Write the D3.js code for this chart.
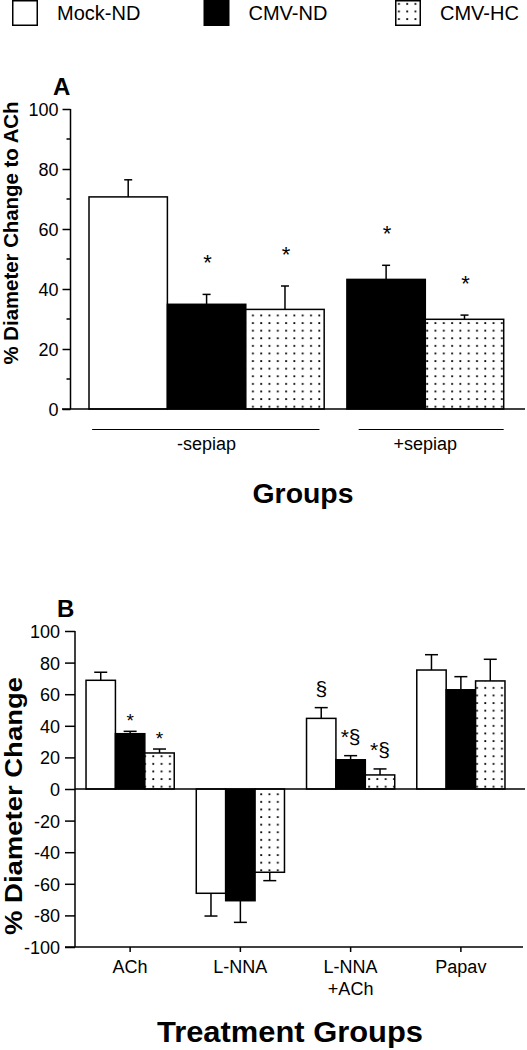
<!DOCTYPE html>
<html><head><meta charset="utf-8">
<script src="https://cdn.jsdelivr.net/npm/d3@7"></script>
<style>body{margin:0;background:#fff}svg{display:block}text{font-family:Arial,"Liberation Sans",Helvetica,sans-serif;fill:#000}</style>
</head><body>
<svg id="chart" width="527" height="1050"></svg>
<script>
// ---------- data ----------
const seriesNames = ["Mock-ND", "CMV-ND", "CMV-HC"];

// Panel A
const groupsA = ["-sepiap", "+sepiap"];
const barsAGroup = ["-sepiap", "-sepiap", "-sepiap", "+sepiap", "+sepiap"];
const barsASeries = ["Mock-ND", "CMV-ND", "CMV-HC", "CMV-ND", "CMV-HC"];
const barsAMean = [70.7, 34.9, 33.2, 43.2, 29.9];
const barsAErr = [5.7, 3.3, 7.8, 4.7, 1.4];
const barsAMark = ["", "*", "*", "*", "*"];
const ticksA = [0, 20, 40, 60, 80, 100];

// Panel B
const treatments = ["ACh", "L-NNA", "L-NNA|+ACh", "Papav"];
const mockND = [68.8, -66.0, 44.7, 75.3];
const mockNDErr = [5.1, 14.4, 6.8, 9.7];
const cmvND = [35.0, -70.7, 18.5, 62.8];
const cmvNDErr = [1.5, 13.7, 2.6, 8.3];
const cmvHC = [22.8, -52.7, 8.9, 68.4];
const cmvHCErr = [2.5, 5.3, 3.8, 13.7];
const mockNDMark = ["", "", "§", ""];
const cmvNDMark = ["*", "", "*§", ""];
const cmvHCMark = ["*", "", "*§", ""];
const ticksB = [-100, -80, -60, -40, -20, 0, 20, 40, 60, 80, 100];

// ---------- drawing ----------
const svg = d3.select("#chart");
const defs = svg.append("defs");
const pat = defs.append("pattern").attr("id", "dots").attr("patternUnits", "userSpaceOnUse")
  .attr("width", 8.3).attr("height", 7.6);
pat.append("rect").attr("width", 8.3).attr("height", 7.6).attr("fill", "#fff");
pat.append("rect").attr("x", 3).attr("y", 3).attr("width", 1.8).attr("height", 1.8).attr("fill", "#000");

const fillOf = d3.scaleOrdinal().domain(seriesNames).range(["#fff", "#000", "url(#dots)"]);

// Legend
const legX = d3.scalePoint().domain(seriesNames).range([12, 395]);
const leg = svg.append("g").selectAll("g").data(seriesNames).join("g")
  .attr("transform", d => `translate(${legX(d)},0)`);
leg.append("rect").attr("x", 0.75).attr("y", 0.75).attr("width", 24.5).attr("height", 24.5)
  .attr("fill", d => fillOf(d)).attr("stroke", "#000").attr("stroke-width", 1.5);
leg.append("text").attr("x", 45).attr("y", 20).attr("font-size", 20).text(d => d);

// ----- Panel A -----
const yA = d3.scaleLinear().domain([0, 100]).range([409, 109]);
const slotA = d3.scaleLinear().domain([0, 5.29]).range([89, 503.7]);
const gapA = 0.29;
const barW = slotA(1) - slotA(0);
const barsA = barsAMean.map((m, i) => ({
  group: barsAGroup[i], series: barsASeries[i], mean: m, err: barsAErr[i], mark: barsAMark[i],
  slot: i + groupsA.indexOf(barsAGroup[i]) * gapA
}));
const gA = svg.append("g");
gA.selectAll("rect.bar").data(barsA).join("rect").attr("class", "bar")
  .attr("x", d => slotA(d.slot)).attr("width", barW)
  .attr("y", d => yA(d.mean)).attr("height", d => yA(0) - yA(d.mean))
  .attr("fill", d => fillOf(d.series)).attr("stroke", "#000").attr("stroke-width", 1.5);
const eA = gA.selectAll("g.err").data(barsA).join("g").attr("class", "err")
  .attr("stroke", "#000").attr("stroke-width", 1.5);
eA.append("line").attr("x1", d => slotA(d.slot) + barW / 2).attr("x2", d => slotA(d.slot) + barW / 2)
  .attr("y1", d => yA(d.mean)).attr("y2", d => yA(d.mean + d.err));
eA.append("line").attr("x1", d => slotA(d.slot) + barW / 2 - 4).attr("x2", d => slotA(d.slot) + barW / 2 + 4)
  .attr("y1", d => yA(d.mean + d.err)).attr("y2", d => yA(d.mean + d.err));
gA.selectAll("text.mark").data(barsA.filter(d => d.mark)).join("text").attr("class", "mark")
  .attr("x", d => slotA(d.slot) + barW / 2 + 1).attr("y", d => yA(d.mean + d.err) - 24)
  .attr("text-anchor", "middle").attr("font-size", 22).text(d => d.mark);
const axA = d3.axisLeft(yA).tickValues(ticksA).tickSize(8).tickPadding(4).tickFormat(d3.format("d"));
const gAxA = gA.append("g").attr("transform", "translate(70.5,0)").call(axA);
gAxA.select(".domain").remove();
gAxA.append("line").attr("y1", yA(100)).attr("y2", yA(0)).attr("stroke", "#000").attr("stroke-width", 1.5);
gAxA.selectAll(".tick line").attr("stroke-width", 1.5);
gAxA.selectAll(".tick text").attr("font-size", 18).attr("font-family", "Arial, 'Liberation Sans', sans-serif").attr("fill", "#000").attr("dy", "0.36em");
gAxA.selectAll("line.minor").data(d3.range(10, 100, 20)).join("line").attr("class", "minor")
  .attr("x1", -4).attr("x2", 0).attr("y1", d => yA(d)).attr("y2", d => yA(d))
  .attr("stroke", "#000").attr("stroke-width", 1.5);
gA.append("line").attr("x1", 62).attr("x2", 525).attr("y1", yA(0)).attr("y2", yA(0))
  .attr("stroke", "#000").attr("stroke-width", 1.5);
const bracketA = [[0.04, 2.94], [3.44, 5.29]];
groupsA.forEach((g, i) => {
  const [a, b] = bracketA[i];
  gA.append("line").attr("x1", slotA(a)).attr("x2", slotA(b)).attr("y1", 429.5).attr("y2", 429.5)
    .attr("stroke", "#000").attr("stroke-width", 1);
  const mid = barsA.filter(d => d.group === g);
  const cx = (slotA(mid[0].slot) + slotA(mid[mid.length - 1].slot) + barW) / 2;
  gA.append("text").attr("x", cx).attr("y", 450).attr("text-anchor", "middle").attr("font-size", 18).text(g);
});
gA.append("text").attr("x", 303).attr("y", 503).attr("text-anchor", "middle").attr("font-size", 27)
  .attr("font-weight", "bold").attr("textLength", 101).attr("lengthAdjust", "spacingAndGlyphs").text("Groups");
gA.append("text").attr("transform", "translate(18,233) rotate(-90)").attr("text-anchor", "middle")
  .attr("font-size", 20).attr("font-weight", "bold").attr("textLength", 263).attr("lengthAdjust", "spacingAndGlyphs")
  .text("% Diameter Change to ACh");
gA.append("text").attr("x", 53).attr("y", 95).attr("font-size", 24).attr("font-weight", "bold").text("A");

// ----- Panel B -----
const yB = d3.scaleLinear().domain([-100, 100]).range([947, 631]);
const xB = d3.scaleBand().domain(treatments).range([75, 516]).paddingInner(0.2).paddingOuter(0.1);
const xS = d3.scaleBand().domain(seriesNames).range([0, xB.bandwidth()]);
const seriesB = [
  {name: "Mock-ND", vals: mockND, errs: mockNDErr, marks: mockNDMark},
  {name: "CMV-ND", vals: cmvND, errs: cmvNDErr, marks: cmvNDMark},
  {name: "CMV-HC", vals: cmvHC, errs: cmvHCErr, marks: cmvHCMark}
];
const barsB = [];
seriesB.forEach(s => treatments.forEach((t, i) => barsB.push({
  t, series: s.name, v: s.vals[i], e: s.errs[i], mark: s.marks[i]
})));
const gB = svg.append("g");
const bx = d => xB(d.t) + xS(d.series);
const bw = xS.bandwidth();
gB.selectAll("rect.bar").data(barsB).join("rect").attr("class", "bar")
  .attr("x", bx).attr("width", bw)
  .attr("y", d => yB(Math.max(0, d.v))).attr("height", d => Math.abs(yB(d.v) - yB(0)))
  .attr("fill", d => fillOf(d.series)).attr("stroke", "#000").attr("stroke-width", 1.5);
const eB = gB.selectAll("g.err").data(barsB).join("g").attr("class", "err")
  .attr("stroke", "#000").attr("stroke-width", 1.5);
const tipB = d => d.v >= 0 ? d.v + d.e : d.v - d.e;
eB.append("line").attr("x1", d => bx(d) + bw / 2).attr("x2", d => bx(d) + bw / 2)
  .attr("y1", d => yB(d.v)).attr("y2", d => yB(tipB(d)));
eB.append("line").attr("x1", d => bx(d) + bw / 2 - 6.5).attr("x2", d => bx(d) + bw / 2 + 6.5)
  .attr("y1", d => yB(tipB(d))).attr("y2", d => yB(tipB(d)));
gB.selectAll("text.mark").data(barsB.filter(d => d.mark)).join("text").attr("class", "mark")
  .attr("x", d => bx(d) + bw / 2).attr("y", d => yB(tipB(d)) - (d.mark.includes("§") ? 12 : 4))
  .attr("text-anchor", "middle").attr("font-size", d => d.mark.includes("§") ? 21 : 19).text(d => d.mark);
const axB = d3.axisLeft(yB).tickValues(ticksB).tickSize(10).tickPadding(5).tickFormat(d3.format("d"));
const gAxB = gB.append("g").attr("transform", "translate(75,0)").call(axB);
gAxB.select(".domain").remove();
gAxB.append("line").attr("y1", yB(100)).attr("y2", yB(-100)).attr("stroke", "#000").attr("stroke-width", 1.5);
gAxB.selectAll(".tick line").attr("stroke-width", 1.5);
gAxB.selectAll(".tick text").attr("font-size", 18).attr("font-family", "Arial, 'Liberation Sans', sans-serif").attr("fill", "#000").attr("dy", "0.36em").text(d => d < 0 ? "-" + Math.abs(d) : d);
gB.append("line").attr("x1", 75).attr("x2", 525).attr("y1", yB(0)).attr("y2", yB(0))
  .attr("stroke", "#000").attr("stroke-width", 1.5);
const axBx = d3.axisBottom(xB).tickSize(5).tickSizeOuter(0).tickFormat("");
const gAxBx = gB.append("g").attr("transform", `translate(0,${yB(-100)})`).call(axBx);
gAxBx.select(".domain").remove();
gAxBx.selectAll(".tick line").attr("stroke-width", 1.5);
gB.append("line").attr("x1", 65).attr("x2", 523).attr("y1", yB(-100)).attr("y2", yB(-100))
  .attr("stroke", "#000").attr("stroke-width", 1.5);
treatments.forEach(t => {
  const lines = t.split("|");
  lines.forEach((ln, k) => gB.append("text").attr("x", xB(t) + xB.bandwidth() / 2).attr("y", 973 + k * 22)
    .attr("text-anchor", "middle").attr("font-size", 18).text(ln));
});
gB.append("text").attr("x", 290).attr("y", 1042).attr("text-anchor", "middle").attr("font-size", 29)
  .attr("font-weight", "bold").attr("textLength", 266).attr("lengthAdjust", "spacingAndGlyphs").text("Treatment Groups");
gB.append("text").attr("transform", "translate(22,806) rotate(-90)").attr("text-anchor", "middle")
  .attr("font-size", 24).attr("font-weight", "bold").attr("textLength", 258).attr("lengthAdjust", "spacingAndGlyphs")
  .text("% Diameter Change");
gB.append("text").attr("x", 57).attr("y", 617).attr("font-size", 24).attr("font-weight", "bold").text("B");
</script>
</body></html>
